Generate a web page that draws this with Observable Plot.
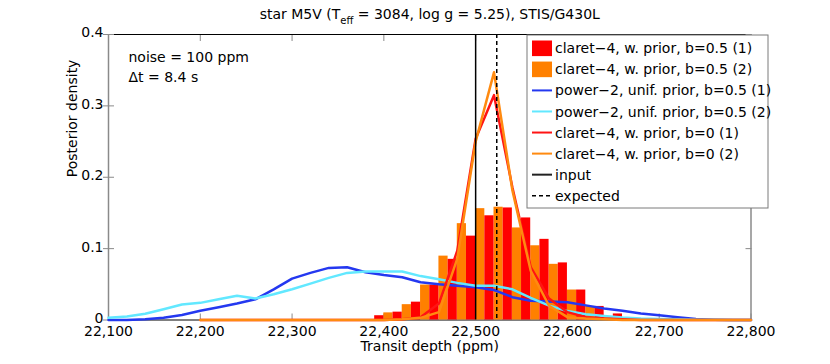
<!DOCTYPE html>
<html><head><meta charset="utf-8">
<script src="https://cdn.jsdelivr.net/npm/d3@7"></script>
<script src="https://cdn.jsdelivr.net/npm/@observablehq/plot@0.6"></script>
<style>
body{margin:0;background:#fff;}
#chart svg{display:block;}
</style></head><body><div id="chart"></div>
<script>
// ---------- data ----------
const titleMain = "star M5V (T";
const titleSub = "eff";
const titleRest = " = 3084, log g = 5.25), STIS/G430L";
const xLabel = "Transit depth (ppm)";
const yLabel = "Posterior density";
const noteLines = ["noise = 100 ppm", "\u0394t = 8.4 s"];

const xDomain = [22100, 22800];
const yDomain = [0, 0.4];
const xTicks = [22100, 22200, 22300, 22400, 22500, 22600, 22700, 22800];
const yTicks = [0, 0.1, 0.2, 0.3, 0.4];

// histogram (claret-4, w. prior, b=0.5), runs (1) and (2); group centres, 20 ppm groups
const binCenters = [22390, 22410, 22430, 22450, 22470, 22490, 22510, 22530, 22550, 22570, 22590, 22610, 22630, 22650];
const histRun1 = [0.006, 0.011, 0.025, 0.049, 0.085, 0.1175, 0.146, 0.157, 0.143, 0.113, 0.080, 0.042, 0.019, 0.0085];
const histRun2 = [0, 0.010, 0.0215, 0.049, 0.0895, 0.135, 0.156, 0.158, 0.129, 0.104, 0.078, 0.042, 0.019, 0.005];
const halfGroup = 10;

// power-2, unif. prior, b=0.5
const powerX = [22100, 22120, 22140, 22160, 22180, 22200, 22220, 22240, 22260, 22280, 22300, 22320, 22340, 22360, 22380, 22400, 22420, 22440, 22460, 22480, 22500, 22520, 22540, 22560, 22580, 22600, 22620, 22640, 22660, 22680, 22700, 22720, 22740, 22760, 22780, 22800];
const powerRun1 = [0, 0, 0.001, 0.003, 0.007, 0.013, 0.018, 0.023, 0.029, 0.043, 0.058, 0.066, 0.073, 0.074, 0.067, 0.063, 0.060, 0.053, 0.050, 0.048, 0.046, 0.042, 0.032, 0.027, 0.026, 0.025, 0.0205, 0.016, 0.013, 0.009, 0.0065, 0.004, 0.0015, 0.0005, 0, 0];
const powerRun2 = [0.003, 0.005, 0.0087, 0.015, 0.0217, 0.024, 0.029, 0.034, 0.030, 0.036, 0.043, 0.051, 0.059, 0.066, 0.068, 0.068, 0.068, 0.0615, 0.057, 0.052, 0.048, 0.048, 0.043, 0.031, 0.020, 0.0125, 0.008, 0.0055, 0.0035, 0.0022, 0.0015, 0.001, 0.0005, 0.0002, 0, 0];

// claret-4, w. prior, b=0
const claretX = [22200, 22220, 22240, 22260, 22280, 22300, 22320, 22340, 22360, 22380, 22400, 22420, 22440, 22460, 22480, 22500, 22520, 22540, 22560, 22580, 22600, 22620, 22640, 22660, 22680, 22700, 22720, 22740, 22760, 22780, 22800];
const claretRun1 = [0, 0, 0, 0, 0, 0, 0, 0, 0, 0, 0, 0.001, 0.004, 0.023, 0.097, 0.254, 0.315, 0.186, 0.074, 0.030, 0.011, 0.004, 0.002, 0.001, 0, 0, 0, 0, 0, 0, 0];
const claretRun2 = [0, 0, 0, 0, 0, 0, 0, 0, 0, 0, 0, 0.001, 0.003, 0.011, 0.086, 0.250, 0.347, 0.182, 0.069, 0.020, 0.004, 0.002, 0.001, 0, 0, 0, 0, 0, 0, 0, 0];

const inputDepth = 22500;
const expectedDepth = 22523;

const legendLabels = [
  "claret\u22124, w. prior, b=0.5 (1)",
  "claret\u22124, w. prior, b=0.5 (2)",
  "power\u22122, unif. prior, b=0.5 (1)",
  "power\u22122, unif. prior, b=0.5 (2)",
  "claret\u22124, w. prior, b=0 (1)",
  "claret\u22124, w. prior, b=0 (2)",
  "input",
  "expected"
];
const legendKinds = ["patch", "patch", "line", "line", "line", "line", "line", "dash"];

// ---------- styles ----------
const C = {
  red: "#ff0000", orange: "#ff8000",
  blue: "#2438f0", cyan: "#62e8ff",
  redLine: "#ff1414", orangeLine: "#ff8a10",
  black: "#000000", axisGray: "#8a8a8a"
};
const legendColors = [C.red, C.orange, C.blue, C.cyan, C.redLine, C.orangeLine, "#222", "#000"];
const FONT = "'DejaVu Sans', sans-serif";

const bars1 = binCenters.map((c, i) => ({x1: c, x2: c + halfGroup, y1: 0, y2: histRun1[i]}));
const bars2 = binCenters.map((c, i) => ({x1: c - halfGroup, x2: c, y1: 0, y2: histRun2[i]}));
const pw1 = powerX.map((x, i) => ({x, y: powerRun1[i]}));
const pw2 = powerX.map((x, i) => ({x, y: powerRun2[i]}));
const cl1 = claretX.map((x, i) => ({x, y: claretRun1[i]}));
const cl2 = claretX.map((x, i) => ({x, y: claretRun2[i]}));

const chart = Plot.plot({
  width: 830, height: 364,
  marginLeft: 108, marginRight: 79.5, marginTop: 34, marginBottom: 44.5,
  style: {fontFamily: FONT, fontSize: "14px", background: "#fff", color: "#000"},
  x: {domain: xDomain, type: "linear"},
  y: {domain: yDomain},
  marks: [
    // frame
    Plot.ruleX(xDomain, {stroke: C.axisGray, strokeWidth: 1.5}),
    Plot.ruleY([yDomain[1]], {stroke: C.black, strokeWidth: 1.2}),
    Plot.ruleY([yDomain[0]], {stroke: C.black, strokeWidth: 1.2}),
    // ticks (inward)
    Plot.axisX(xTicks, {anchor: "bottom", tickSize: 6, dy: -6, fill: "none", stroke: C.axisGray, label: null}),
    Plot.axisX(xTicks, {anchor: "top", tickSize: 6, dy: 6, fill: "none", stroke: C.axisGray, label: null}),
    Plot.axisY(yTicks, {anchor: "left", tickSize: 11, dx: 6, fill: "none", stroke: C.axisGray, label: null}),
    Plot.axisY(yTicks, {anchor: "right", tickSize: 6, dx: -6, fill: "none", stroke: C.axisGray, label: null}),
    // tick labels
    Plot.axisX(xTicks, {anchor: "bottom", tickSize: 0, tickPadding: 6, tickFormat: d3.format(","), label: null, fontSize: 14, fill: "#000"}),
    Plot.axisY(yTicks, {anchor: "left", tickSize: 0, tickPadding: 5, dy: -1.5, tickFormat: d => String(d), label: null, fontSize: 14, fill: "#000"}),
    // histogram bars
    Plot.rect(bars2, {x1: "x1", x2: "x2", y1: "y1", y2: "y2", fill: C.orange}),
    Plot.rect(bars1, {x1: "x1", x2: "x2", y1: "y1", y2: "y2", fill: C.red}),
    // curves
    Plot.line(pw1, {x: "x", y: "y", stroke: C.blue, strokeWidth: 2.5}),
    Plot.line(pw2, {x: "x", y: "y", stroke: C.cyan, strokeWidth: 2.5}),
    Plot.line(cl1, {x: "x", y: "y", stroke: C.redLine, strokeWidth: 2.5}),
    Plot.line(cl2, {x: "x", y: "y", stroke: C.orangeLine, strokeWidth: 2.5}),
    // reference lines
    Plot.ruleX([inputDepth], {stroke: C.black, strokeWidth: 1.5}),
    Plot.ruleX([expectedDepth], {stroke: C.black, strokeWidth: 1.5, strokeDasharray: "4,3"}),
    // labels
    Plot.text([xLabel], {frameAnchor: "bottom", lineAnchor: "top", dy: 21.5, fontSize: 14, fill: "#000"}),
    Plot.text([yLabel], {frameAnchor: "left", rotate: -90, dx: -36, lineAnchor: "middle", fontSize: 14, fill: "#000"}),
    Plot.text([noteLines.join("\n")], {frameAnchor: "top-left", textAnchor: "start", lineAnchor: "top", dx: 20, dy: 14, lineHeight: 1.39, fontSize: 14, fill: "#000"}),
    Plot.text([titleMain + titleSub + titleRest], {frameAnchor: "top", lineAnchor: "bottom", dy: -16, fontSize: 14, fill: "#000"})
  ]
});

// subscript in title
const svg = d3.select(chart);
svg.selectAll("text").filter(function () { return this.textContent === titleMain + titleSub + titleRest; })
  .each(function () {
    const t = d3.select(this);
    t.text(null);
    t.append("tspan").text(titleMain);
    t.append("tspan").attr("font-size", 10).attr("dy", 5).text(titleSub);
    t.append("tspan").attr("dy", -5).text(titleRest);
  });

// legend (inside the axes, top right)
const lg = svg.append("g").attr("font-family", FONT).attr("font-size", 14).attr("text-anchor", "start");
const box = {x: 527, y: 35, w: 241, h: 173, row0: 48.3, step: 21.06};
lg.append("rect").attr("x", box.x).attr("y", box.y).attr("width", box.w).attr("height", box.h)
  .attr("fill", "#fff").attr("stroke", "#7a7a7a").attr("stroke-width", 1);
legendLabels.forEach((lab, i) => {
  const cy = box.row0 + i * box.step;
  const kind = legendKinds[i];
  if (kind === "patch") {
    lg.append("rect").attr("x", 532).attr("y", cy - 7.8).attr("width", 20).attr("height", 15.6).attr("fill", legendColors[i]);
  } else {
    lg.append("line").attr("x1", 532).attr("x2", 552).attr("y1", cy).attr("y2", cy)
      .attr("stroke", legendColors[i]).attr("stroke-width", kind === "dash" ? 1.5 : 2)
      .attr("stroke-dasharray", kind === "dash" ? "4,3" : null);
  }
  lg.append("text").attr("x", 555).attr("y", cy).attr("dy", "0.36em").attr("fill", "#000")
    .attr("text-anchor", "start").text(lab);
});

document.getElementById("chart").appendChild(chart);
</script>
</body></html>
